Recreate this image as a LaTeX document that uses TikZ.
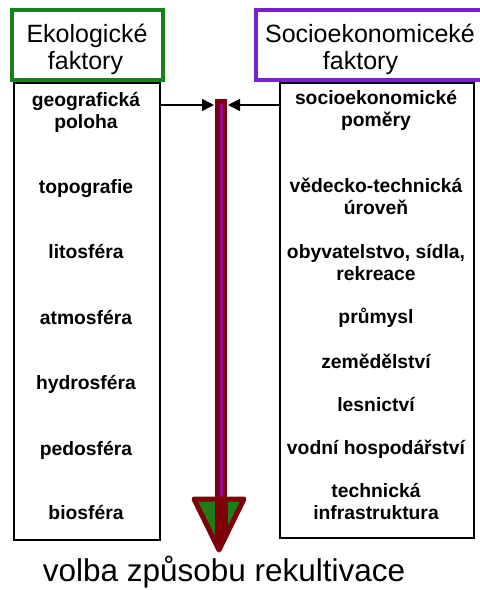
\documentclass[tikz,border=0pt]{standalone}
\usepackage{fontspec}
\setmainfont{Liberation Sans}
\usetikzlibrary{arrows.meta}
\definecolor{hdrgreen}{RGB}{24,128,28}
\definecolor{hdrpurple}{RGB}{120,34,205}
\definecolor{shaftred}{RGB}{125,0,10}
\definecolor{shaftpurple}{RGB}{150,10,160}
\definecolor{headgreen}{RGB}{30,125,20}
\tikzset{
  hdrtext/.style={anchor=base, inner sep=0pt, font=\fontsize{25}{27}\selectfont},
  itemtext/.style={anchor=base, inner sep=0pt, align=center, font=\fontsize{19.3}{22}\selectfont\bfseries},
  colbox/.style={draw=black, line width=1.6pt, inner sep=0pt, anchor=north west},
  feedarrow/.style={draw=black, line width=1.6pt, -{Triangle[length=12pt,width=12pt]}},
}
\begin{document}
\begin{tikzpicture}[x=1pt,y=-1pt]
\useasboundingbox (0,0) rectangle (480,590);
% header boxes
\draw[hdrgreen, line width=3.5pt] (12,10) rectangle (163,80);
\draw[hdrpurple, line width=3.5pt] (256,10) rectangle (484,80);
\node[hdrtext] (ekoA) at (87,42) {Ekologické};
\node[hdrtext] (ekoB) at (85.5,69) {faktory};
\node[hdrtext] (socA) at (370,42) {Socioekonomiceké};
\node[hdrtext] (socB) at (360.5,69) {faktory};
% column boxes
\node[colbox, minimum width=146pt, minimum height=457pt] (leftbox) at (13,82) {};
\node[colbox, minimum width=194pt, minimum height=455pt] (rightbox) at (279,82) {};
% left items (base = baseline of last line)
\node[itemtext] (l1) at (86,128) {geografická\\poloha};
\node[itemtext] (l2) at (86,193) {topografie};
\node[itemtext] (l3) at (86,258) {litosféra};
\node[itemtext] (l4) at (86,324) {atmosféra};
\node[itemtext] (l5) at (86,389) {hydrosféra};
\node[itemtext] (l6) at (86,455) {pedosféra};
\node[itemtext] (l7) at (86,519) {biosféra};
% right items
\node[itemtext] (r1) at (376,126) {socioekonomické\\poměry};
\node[itemtext] (r2) at (376,214) {vědecko-technická\\úroveň};
\node[itemtext] (r3) at (376,280) {obyvatelstvo, sídla,\\rekreace};
\node[itemtext] (r4) at (376,323) {průmysl};
\node[itemtext] (r5) at (376,368) {zemědělství};
\node[itemtext] (r6) at (376,411) {lesnictví};
\node[itemtext] (r7) at (376,454) {vodní hospodářství};
\node[itemtext] (r8) at (376,519) {technická\\infrastruktura};
% big arrow
\node[draw=shaftred, fill=shaftpurple, line width=4.5pt, inner sep=0pt,
      minimum width=7.5pt, minimum height=401pt, anchor=north] (shaft) at (221,99.25) {};
\path[fill=headgreen] (194,499) -- (244,499) -- (219,550) -- cycle;
\begin{scope}
\clip (194,499) -- (244,499) -- (219,550) -- cycle;
\fill[shaftred] (214.5,495) rectangle (227.5,553);
\end{scope}
\draw[shaftred, line width=5pt, line join=round] (194,499) -- (244,499) -- (219,550) -- cycle;
% feeding arrows
\coordinate (ya) at (0,105);
\draw[feedarrow] (leftbox.east |- ya) -- ([xshift=-1pt]shaft.west |- ya);
\draw[feedarrow] (rightbox.west |- ya) -- ([xshift=1pt]shaft.east |- ya);
% result
\node[anchor=base, inner sep=0pt, font=\fontsize{31.5}{34}\selectfont] (result) at (224,581) {volba způsobu rekultivace};
\end{tikzpicture}
\end{document}
